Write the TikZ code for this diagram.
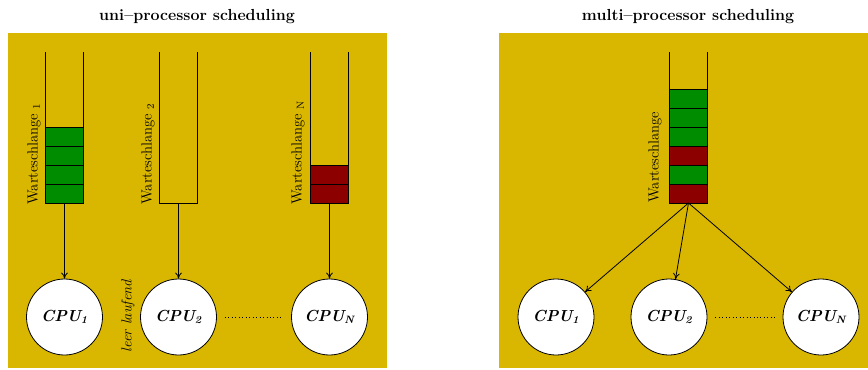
\documentclass[tikz,border=0pt]{standalone}
\usetikzlibrary{positioning, arrows.meta}
\definecolor{panelgold}{RGB}{217,183,0}
\definecolor{jobgreen}{RGB}{0,140,0}
\definecolor{jobred}{RGB}{140,0,0}
\tikzset{
  cpu/.style={circle, draw, fill=white, minimum size=57pt, inner sep=0pt, font=\fontsize{12}{14}\selectfont\bfseries\itshape},
  job/.style={draw, minimum width=28.5pt, minimum height=14.25pt, inner sep=0pt},
  qlabel/.style={rotate=90, anchor=west, inner sep=0pt, font=\fontsize{11}{13}\selectfont},
  title/.style={font=\fontsize{12}{14}\selectfont\bfseries},
}
\begin{document}
\begin{tikzpicture}[x=0.75pt, y=-0.75pt, line width=0.6pt, >={To[length=4.5pt, width=5pt]}]
            \useasboundingbox (0,0) rectangle (868,369);
            % panels
            \fill[panelgold] (8,33) rectangle (387,368);
            \fill[panelgold] (499,33) rectangle (868,368);
            \node[title] (uni) at (197,17) {uni--processor scheduling};
            \node[title] (multi) at (688,17) {multi--processor scheduling};
            % uni-processor: one queue per cpu
            \draw (45.5,52) -- (45.5,203) -- (83.5,203) -- (83.5,52);
            \draw (159.5,52) -- (159.5,203) -- (197.5,203) -- (197.5,52);
            \draw (310.5,52) -- (310.5,203) -- (348.5,203) -- (348.5,52);
            \foreach \y/\n in {136.5/a, 155.5/b, 174.5/c, 193.5/d}
              \node[job, fill=jobgreen] (qA\n) at (64.5,\y) {};
            \node[job, fill=jobred] (qCa) at (329.5,174.5) {};
            \node[job, fill=jobred] (qCb) at (329.5,193.5) {};
            \coordinate (qA) at (64.5,203);
            \coordinate (qB) at (178.5,203);
            \coordinate (qC) at (329.5,203);
            \node[qlabel] (lA) at (34,205) {Warteschlange \textsubscript{1}};
            \node[qlabel] (lB) at (148,205) {Warteschlange \textsubscript{2}};
            \node[qlabel] (lC) at (298,205) {Warteschlange \textsubscript{N}};
            \node[cpu] (cpuA) at (64.5,317) {CPU\textsubscript{1}};
            \node[cpu] (cpuB) at (178.5,317) {CPU\textsubscript{2}};
            \node[cpu] (cpuC) at (329.5,317) {CPU\textsubscript{N}};
            \node[rotate=90, font=\fontsize{11}{13}\selectfont\itshape] (idle) at (128,316) {leer laufend};
            \draw[->](qA) to (cpuA);
            \draw[->](qB) to (cpuB);
            \draw[->](qC) to (cpuC);
            \draw[dotted, shorten <=6pt, shorten >=6pt](cpuB) to (cpuC);
            % multi-processor: one shared queue
            \draw (669.5,52) -- (669.5,203) -- (707.5,203) -- (707.5,52);
            \foreach \y/\c/\n in {98.5/jobgreen/a, 117.5/jobgreen/b, 136.5/jobgreen/c,
                                  155.5/jobred/d, 174.5/jobgreen/e, 193.5/jobred/f}
              \node[job, fill=\c] (qM\n) at (688.5,\y) {};
            \coordinate (qM) at (688.5,203);
            \node[qlabel] (lM) at (655,203) {Warteschlange};
            \node[cpu] (cpuD) at (556,317) {CPU\textsubscript{1}};
            \node[cpu] (cpuE) at (669,317) {CPU\textsubscript{2}};
            \node[cpu] (cpuF) at (821,317) {CPU\textsubscript{N}};
            \draw[->](qM) to (cpuD);
            \draw[->](qM) to (cpuE);
            \draw[->](qM) to (cpuF);
            \draw[dotted, shorten <=6pt, shorten >=6pt](cpuE) to (cpuF);
\end{tikzpicture}
\end{document}
